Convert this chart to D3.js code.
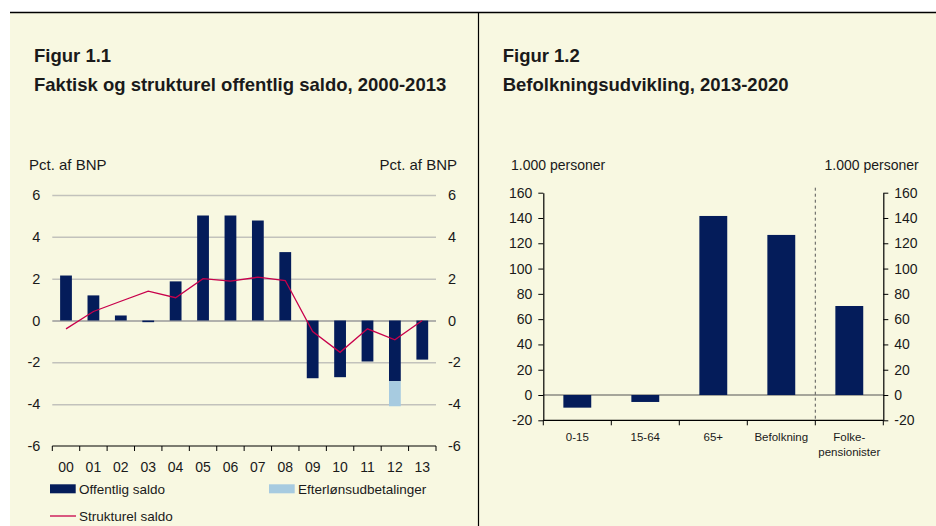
<!DOCTYPE html>
<html>
<head>
<meta charset="utf-8">
<script src="https://cdn.jsdelivr.net/npm/d3@7"></script>
<style>
  body { margin: 0; background: #fff; }
  text { font-family: "Liberation Sans", Arial, sans-serif; fill: #1a1a1a; }
</style>
</head>
<body>
<svg id="chart" width="936" height="526"></svg>
<script>
// Figur 1.1 data
const years = ["00","01","02","03","04","05","06","07","08","09","10","11","12","13"];
const offentligSaldo = [2.15, 1.2, 0.24, -0.08, 1.87, 5.02, 5.02, 4.78, 3.27, -2.76, -2.71, -1.96, -2.9, -1.87];
const efterlon = [0, 0, 0, 0, 0, 0, 0, 0, 0, 0, 0, 0, -1.2, 0];
const strukturelSaldo = [-0.4, 0.43, 0.92, 1.4, 1.09, 2.0, 1.88, 2.07, 1.91, -0.53, -1.52, -0.4, -0.92, 0.0];
const leftTicks = [-6, -4, -2, 0, 2, 4, 6];

// Figur 1.2 data
const groups = ["0-15", "15-64", "65+", "Befolkning", "Folkepensionister"];
const groupLabels = [["0-15"], ["15-64"], ["65+"], ["Befolkning"], ["Folke-", "pensionister"]];
const befolkning = [-10, -5.5, 141.6, 126.6, 70.4];
const rightTicks = [-20, 0, 20, 40, 60, 80, 100, 120, 140, 160];

const navy = "#041c5a";
const lightBlue = "#a7cbe0";
const crimson = "#c8004b";
const beige = "#f8f8e1";
const fmt = d => String(d); // plain hyphen for negatives, as in the original

const svg = d3.select("#chart");

// background panels and frame lines
svg.append("rect").attr("x", 10).attr("y", 12).attr("width", 926).attr("height", 514).attr("fill", beige);
svg.append("line").attr("x1", 10).attr("x2", 936).attr("y1", 12.5).attr("y2", 12.5).attr("stroke", "#000").attr("stroke-width", 1.5);
svg.append("line").attr("x1", 478.5).attr("x2", 478.5).attr("y1", 12).attr("y2", 526).attr("stroke", "#000").attr("stroke-width", 1.2);

function titles(x, fig, sub) {
  svg.append("text").attr("x", x).attr("y", 62).attr("font-size", 18.5).attr("font-weight", "bold").attr("fill", "#000").text(fig);
  svg.append("text").attr("x", x).attr("y", 91).attr("font-size", 18.5).attr("font-weight", "bold").attr("fill", "#000").text(sub);
}

// ---------- Figur 1.1 ----------
titles(34, "Figur 1.1", "Faktisk og strukturel offentlig saldo, 2000-2013");

const x1 = d3.scaleBand().domain(years).range([52.3, 436]).paddingInner(0.57).paddingOuter(0.285);
const y1 = d3.scaleLinear().domain([-6, 6]).range([446, 195]);

svg.append("text").attr("x", 29).attr("y", 170).attr("font-size", 15).text("Pct. af BNP");
svg.append("text").attr("x", 457).attr("y", 170).attr("font-size", 15).attr("text-anchor", "end").text("Pct. af BNP");

// gridlines + left labels
svg.append("g")
  .attr("transform", "translate(52.3,0)")
  .call(d3.axisLeft(y1).tickValues(leftTicks).tickFormat(fmt).tickSizeInner(-(436 - 52.3)).tickSizeOuter(0).tickPadding(12))
  .call(g => g.select(".domain").remove())
  .call(g => g.selectAll(".tick line")
    .attr("stroke", d => d === 0 ? "#9a9a9a" : "#c2c2bc")
    .attr("stroke-width", 1.5)
    .attr("display", d => d === -6 ? "none" : null))
  .call(g => g.selectAll("text").attr("font-size", 14.5).attr("fill", "#1a1a1a"));

svg.append("g")
  .attr("transform", "translate(436,0)")
  .call(d3.axisRight(y1).tickValues(leftTicks).tickFormat(fmt).tickSize(0).tickPadding(12))
  .call(g => g.select(".domain").remove())
  .call(g => g.selectAll("text").attr("font-size", 14.5).attr("fill", "#1a1a1a"));

// bars
svg.append("g").selectAll("rect")
  .data(years)
  .join("rect")
  .attr("x", d => x1(d))
  .attr("width", x1.bandwidth())
  .attr("y", (d, i) => y1(Math.max(0, offentligSaldo[i])))
  .attr("height", (d, i) => Math.abs(y1(offentligSaldo[i]) - y1(0)))
  .attr("fill", navy);

svg.append("g").selectAll("rect")
  .data(years.filter((d, i) => efterlon[i] !== 0))
  .join("rect")
  .attr("x", d => x1(d))
  .attr("width", x1.bandwidth())
  .attr("y", d => y1(offentligSaldo[years.indexOf(d)]))
  .attr("height", d => {
    const i = years.indexOf(d);
    return y1(offentligSaldo[i] + efterlon[i]) - y1(offentligSaldo[i]);
  })
  .attr("fill", lightBlue);

// structural balance line
const line1 = d3.line()
  .x((d, i) => x1(years[i]) + x1.bandwidth() / 2)
  .y(d => y1(d));
svg.append("path")
  .datum(strukturelSaldo)
  .attr("fill", "none")
  .attr("stroke", crimson)
  .attr("stroke-width", 1.3)
  .attr("d", line1);

// bottom axis
const step1 = x1.step();
const xAxis1 = svg.append("g").attr("transform", `translate(0,${y1(-6)})`);
xAxis1.append("line").attr("x1", 52.3).attr("x2", 436).attr("stroke", "#000").attr("stroke-width", 1.2);
xAxis1.selectAll(".tk").data(d3.range(years.length + 1)).join("line")
  .attr("x1", i => x1.range()[0] + i * step1).attr("x2", i => x1.range()[0] + i * step1)
  .attr("y1", 0).attr("y2", 5).attr("stroke", "#000");
xAxis1.selectAll(".lb").data(years).join("text")
  .attr("x", d => x1(d) + x1.bandwidth() / 2)
  .attr("y", 25.7)
  .attr("text-anchor", "middle")
  .attr("font-size", 14)
  .text(d => d);

// legend
svg.append("rect").attr("x", 50).attr("y", 484.3).attr("width", 25.7).attr("height", 9).attr("fill", navy);
svg.append("text").attr("x", 79).attr("y", 493.5).attr("font-size", 13.5).text("Offentlig saldo");
svg.append("rect").attr("x", 269).attr("y", 484.3).attr("width", 25.7).attr("height", 9).attr("fill", lightBlue);
svg.append("text").attr("x", 298).attr("y", 493.5).attr("font-size", 13.5).text("Efterlønsudbetalinger");
svg.append("line").attr("x1", 50).attr("x2", 76).attr("y1", 516).attr("y2", 516).attr("stroke", crimson).attr("stroke-width", 1.3);
svg.append("text").attr("x", 79).attr("y", 520.5).attr("font-size", 13.5).text("Strukturel saldo");

// ---------- Figur 1.2 ----------
titles(502.7, "Figur 1.2", "Befolkningsudvikling, 2013-2020");

const x2 = d3.scaleBand().domain(groups).range([543.3, 883.3]).paddingInner(0.59).paddingOuter(0.295);
const y2 = d3.scaleLinear().domain([-20, 160]).range([420.3, 192.7]);

svg.append("text").attr("x", 511).attr("y", 170).attr("font-size", 14).text("1.000 personer");
svg.append("text").attr("x", 918.7).attr("y", 170).attr("font-size", 14).attr("text-anchor", "end").text("1.000 personer");

// zero line
svg.append("line")
  .attr("x1", x2.range()[0]).attr("x2", x2.range()[1])
  .attr("y1", y2(0)).attr("y2", y2(0))
  .attr("stroke", "#555").attr("stroke-width", 1);

// separator dashed line
const step2 = x2.step();
svg.append("line")
  .attr("x1", x2.range()[0] + 4 * step2).attr("x2", x2.range()[0] + 4 * step2)
  .attr("y1", y2(160) - 5).attr("y2", y2(-20))
  .attr("stroke", "#555").attr("stroke-width", 1).attr("stroke-dasharray", "3,3");

// bars
svg.append("g").selectAll("rect")
  .data(groups)
  .join("rect")
  .attr("x", d => x2(d))
  .attr("width", x2.bandwidth())
  .attr("y", (d, i) => y2(Math.max(0, befolkning[i])))
  .attr("height", (d, i) => Math.abs(y2(befolkning[i]) - y2(0)))
  .attr("fill", navy);

// y axes
svg.append("g")
  .attr("transform", `translate(${x2.range()[0]},0)`)
  .call(d3.axisLeft(y2).tickValues(rightTicks).tickFormat(fmt).tickSizeInner(5).tickSizeOuter(0).tickPadding(6))
  .call(g => g.select(".domain").attr("stroke", "#000").attr("stroke-width", 1.2))
  .call(g => g.selectAll("text").attr("font-size", 14).attr("fill", "#1a1a1a"));

svg.append("g")
  .attr("transform", `translate(${x2.range()[1]},0)`)
  .call(d3.axisRight(y2).tickValues(rightTicks).tickFormat(fmt).tickSizeInner(5).tickSizeOuter(0).tickPadding(6))
  .call(g => g.select(".domain").attr("stroke", "#000").attr("stroke-width", 1.2))
  .call(g => g.selectAll("text").attr("font-size", 14).attr("fill", "#1a1a1a"));

// bottom axis
const xAxis2 = svg.append("g").attr("transform", `translate(0,${y2(-20)})`);
xAxis2.append("line").attr("x1", x2.range()[0]).attr("x2", x2.range()[1]).attr("stroke", "#000").attr("stroke-width", 1.2);
xAxis2.selectAll(".tk").data(d3.range(groups.length + 1)).join("line")
  .attr("x1", i => x2.range()[0] + i * step2).attr("x2", i => x2.range()[0] + i * step2)
  .attr("y1", 0).attr("y2", 5).attr("stroke", "#000");
xAxis2.selectAll(".lb").data(groups).join("text")
  .attr("x", d => x2(d) + x2.bandwidth() / 2)
  .attr("y", 20.4)
  .attr("text-anchor", "middle")
  .attr("font-size", 11.5)
  .each(function(d, i) {
    d3.select(this).selectAll("tspan").data(groupLabels[i]).join("tspan")
      .attr("x", x2(d) + x2.bandwidth() / 2)
      .attr("dy", (t, j) => j === 0 ? 0 : 15)
      .text(t => t);
  });
</script>
</body>
</html>
